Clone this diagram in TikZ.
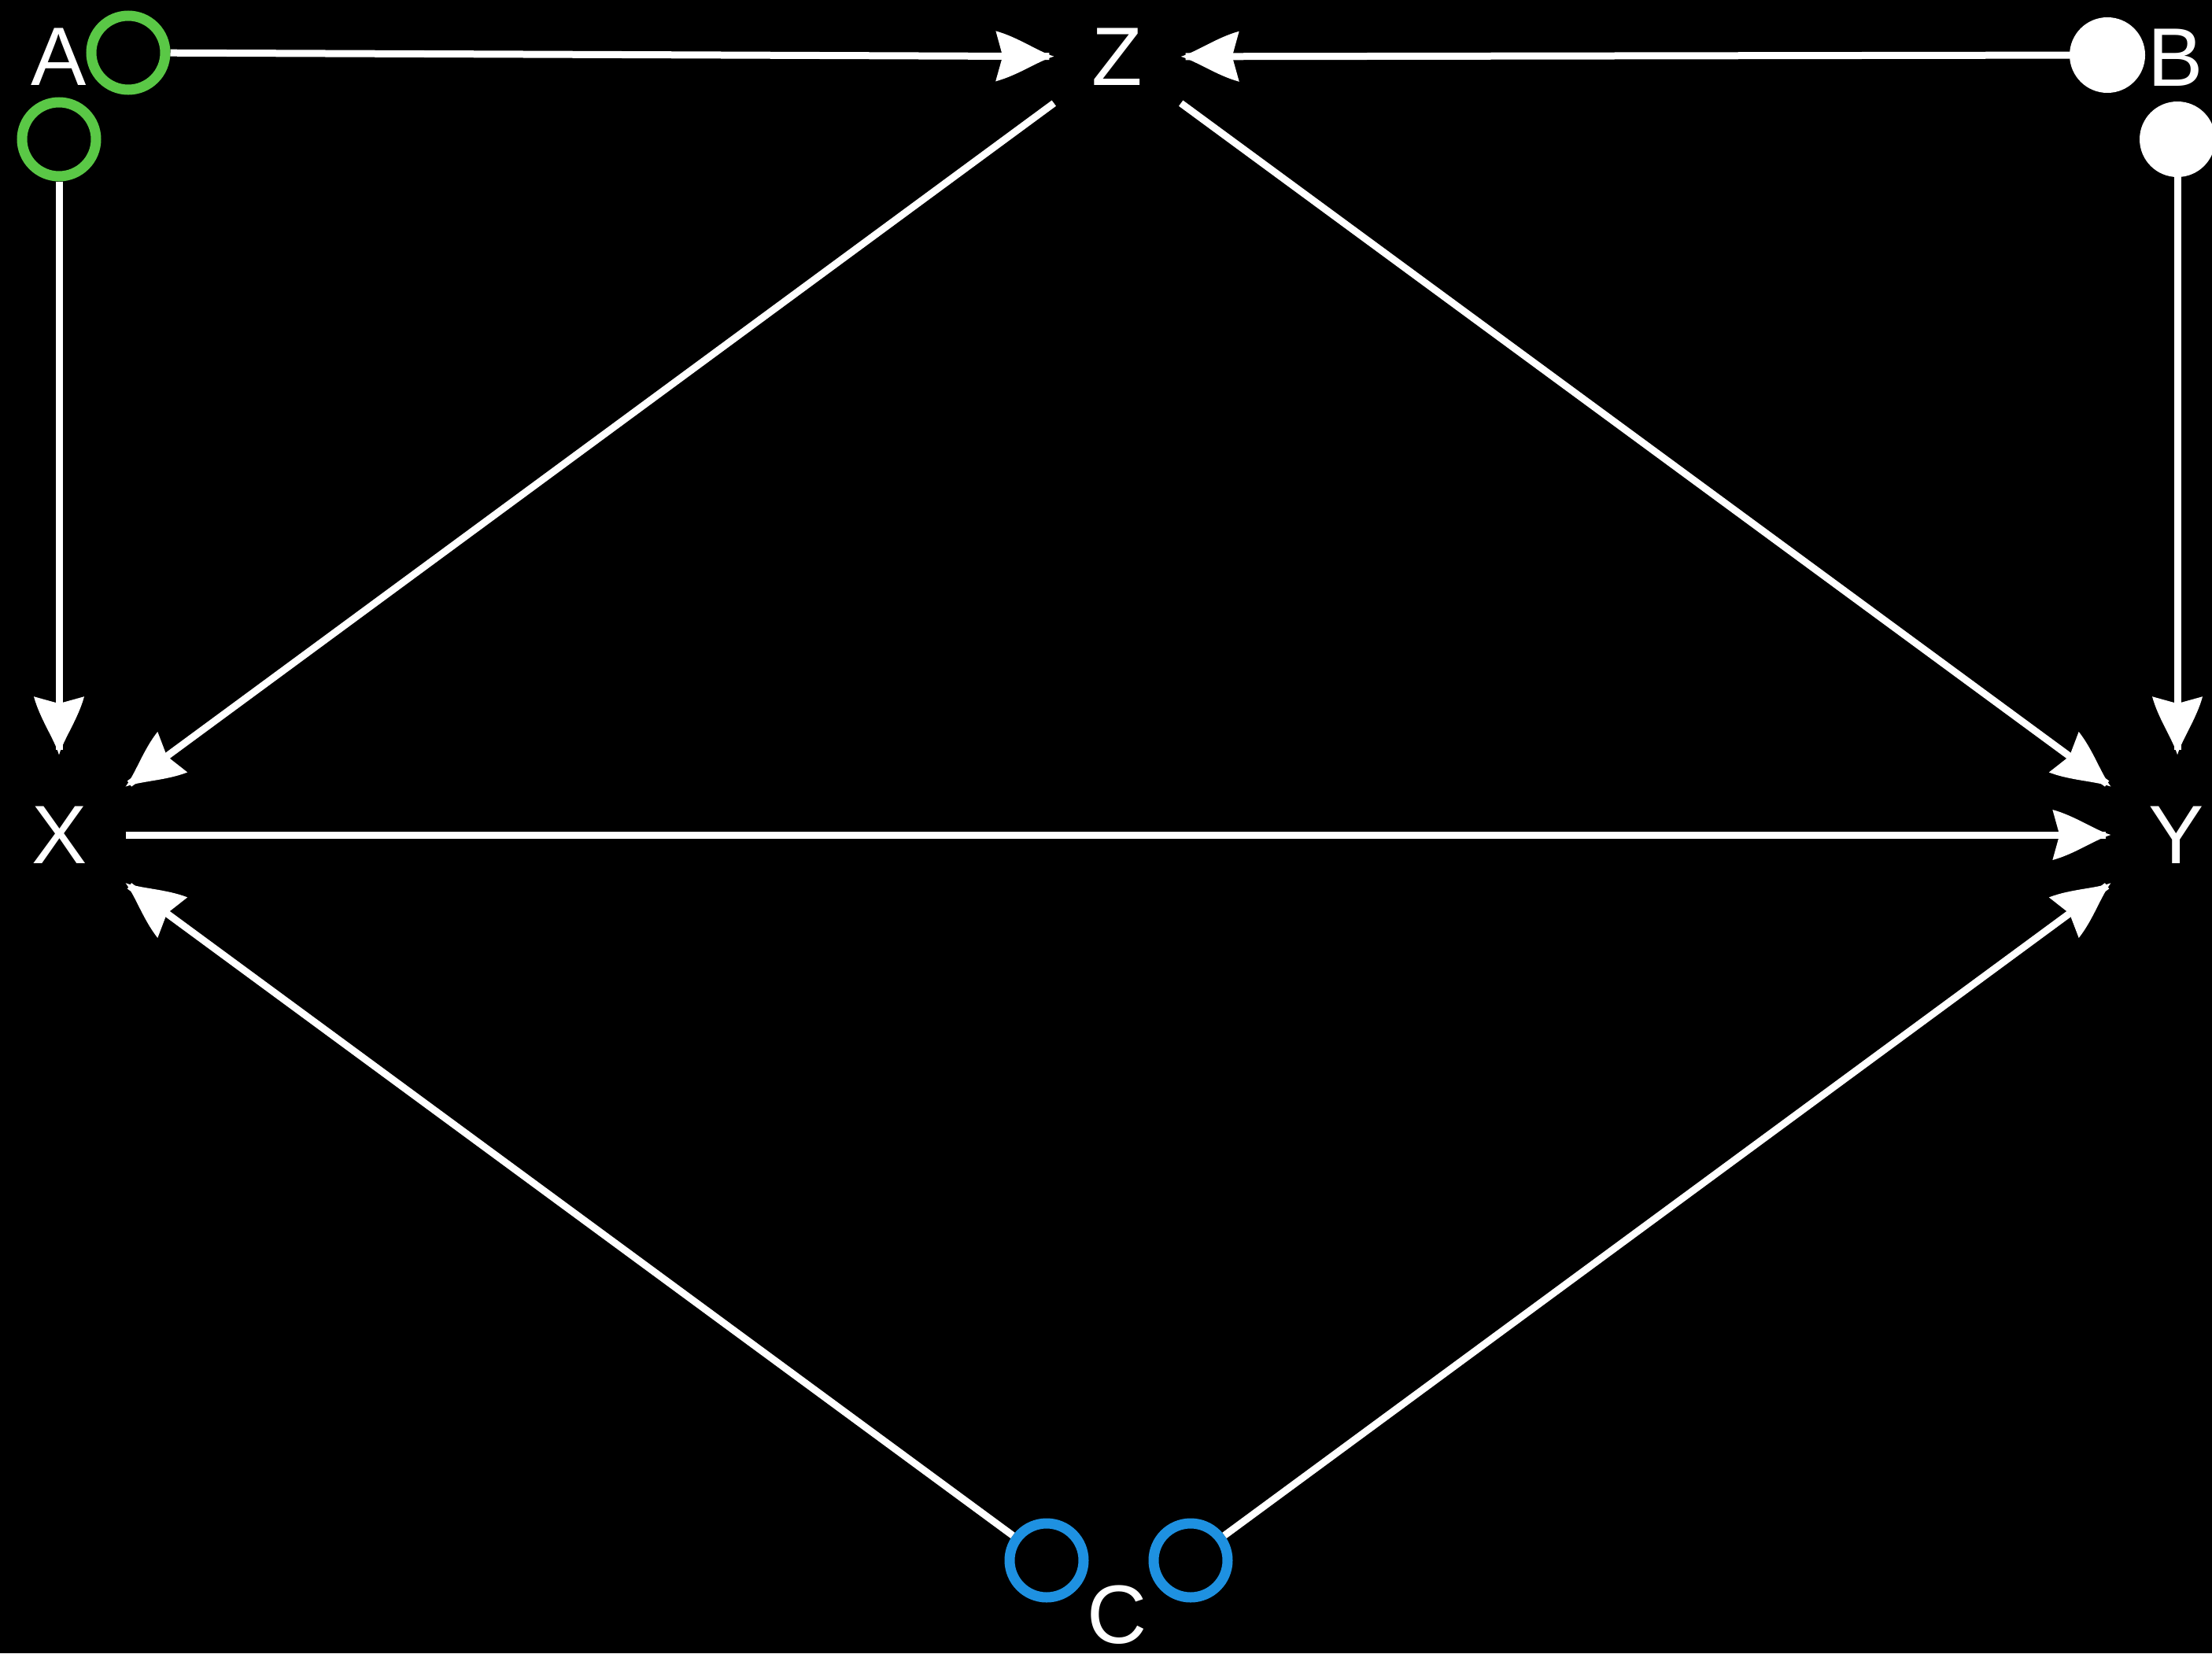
\documentclass[tikz,border=0pt]{standalone}
\usepackage{fontspec}
\setmainfont{Liberation Sans}
\usetikzlibrary{arrows.meta}
\definecolor{ringgreen}{RGB}{90,200,70}
\definecolor{ringblue}{RGB}{30,145,225}

% arrow tip with hollow (concave) sides
\pgfdeclarearrow{
  name = Dart,
  parameters = {\the\pgfarrowlength,\the\pgfarrowwidth},
  setup code = {
    \pgfarrowssettipend{0pt}
    \pgfarrowssetlineend{-0.08\pgfarrowlength}
    \pgfarrowssetbackend{-\pgfarrowlength}
    \pgfarrowssetvisualbackend{-0.9\pgfarrowlength}
    \pgfarrowshullpoint{0pt}{0pt}
    \pgfarrowsupperhullpoint{-\pgfarrowlength}{.5\pgfarrowwidth}
    \pgfarrowssavethe\pgfarrowlength
    \pgfarrowssavethe\pgfarrowwidth
  },
  drawing code = {
    \pgfpathmoveto{\pgfqpoint{0pt}{0pt}}
    \pgfpathcurveto{\pgfqpoint{-.28\pgfarrowlength}{.1\pgfarrowwidth}}
      {\pgfqpoint{-.62\pgfarrowlength}{.38\pgfarrowwidth}}
      {\pgfqpoint{-\pgfarrowlength}{.5\pgfarrowwidth}}
    \pgfpathlineto{\pgfqpoint{-.88\pgfarrowlength}{0pt}}
    \pgfpathlineto{\pgfqpoint{-\pgfarrowlength}{-.5\pgfarrowwidth}}
    \pgfpathcurveto{\pgfqpoint{-.62\pgfarrowlength}{-.38\pgfarrowwidth}}
      {\pgfqpoint{-.28\pgfarrowlength}{-.1\pgfarrowwidth}}
      {\pgfqpoint{0pt}{0pt}}
    \pgfpathclose
    \pgfusepathqfill
  },
  defaults = {length=0.74cm, width=0.64cm}
}

\begin{document}
\begin{tikzpicture}[line width=0.09cm, white, font=\fontsize{30}{36}\selectfont,
    var/.style={inner xsep=0.44cm, inner ysep=0.61cm},
    ring/.style={circle, draw=#1, line width=0.13cm, minimum size=0.94cm, inner sep=0pt},
    dot/.style={circle, fill=white, minimum size=0.96cm, inner sep=0pt, outer sep=0pt},
    edge/.style={-{Dart[length=0.74cm, width=0.64cm]}}]
  \useasboundingbox (0,0) rectangle (28.11,-21.01);
  \fill[black] (0,0) rectangle (28.11,-21.01);

  % variables
  \node[var] (x) at (0.76,-10.61) {X};
  \node[var] (y) at (27.66,-10.61) {Y};
  \node[var] (z) at (14.20,-0.72) {Z};

  % labels and their circles
  \node (alab) at (0.75,-0.72) {A};
  \node (blab) at (27.65,-0.73) {B};
  \node (clab) at (14.20,-20.52) {C};
  \node[ring=ringgreen] (a1) at (1.63,-0.67) {};
  \node[ring=ringgreen] (a2) at (0.75,-1.77) {};
  \node[dot] (b1) at (26.78,-0.70) {};
  \node[dot] (b2) at (27.67,-1.77) {};
  \node[ring=ringblue] (c1) at (13.30,-19.83) {};
  \node[ring=ringblue] (c2) at (15.13,-19.83) {};

  % edges
  \draw[edge] (a1) -- (z);
  \draw[edge] (b1) -- (z);
  \draw[edge] (a2) -- (a2 |- x.north);
  \draw[edge] (b2) -- (b2 |- y.north);
  \draw[edge] (z) -- (x);
  \draw[edge] (z) -- (y);
  \draw[edge] (x) -- (y);
  \draw[edge] (c1) -- (x);
  \draw[edge] (c2) -- (y);
\end{tikzpicture}
\end{document}
